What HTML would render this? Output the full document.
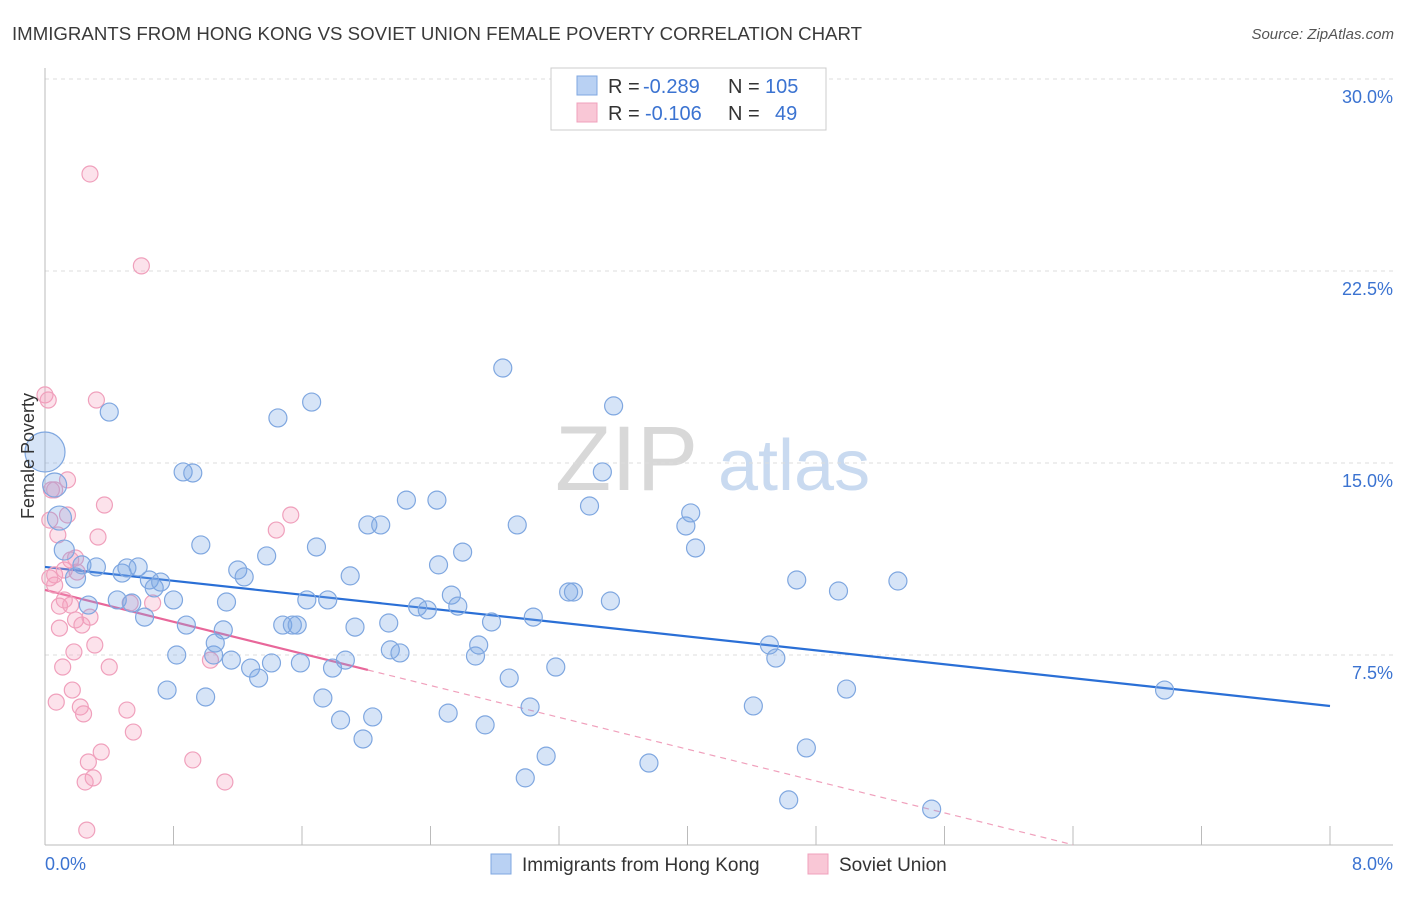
<!DOCTYPE html>
<html><head><meta charset="utf-8"><style>
body{margin:0;background:#fff;font-family:"Liberation Sans",sans-serif;}
svg text{font-family:"Liberation Sans",sans-serif;}
</style></head><body>
<svg id="chart" width="1406" height="892" viewBox="0 0 1406 892" xmlns="http://www.w3.org/2000/svg">
<text x="12" y="40" font-size="18.5" fill="#3a3a3a" textLength="850" lengthAdjust="spacingAndGlyphs">IMMIGRANTS FROM HONG KONG VS SOVIET UNION FEMALE POVERTY CORRELATION CHART</text>
<text x="1394" y="39" font-size="15" fill="#555" font-style="italic" text-anchor="end">Source: ZipAtlas.com</text>
<g>
<text x="555" y="490" font-size="92" fill="#d8d8d8" font-family="Liberation Serif" >ZIP</text>
<text x="718" y="490" font-size="72" fill="#c9daf0">atlas</text>
</g>
<g id="grid"></g>
<g id="axes"></g>
<g id="lines"></g>
<g id="points"></g>
<g>
<rect x="551" y="68" width="275" height="62" fill="#fff" stroke="#ccc"/>
<rect x="577" y="76" width="20" height="19" fill="#b9d1f3" stroke="#7fa7e0"/>
<rect x="577" y="103" width="20" height="19" fill="#f9c7d6" stroke="#f0a0bc"/>
<text x="608" y="93" font-size="20" fill="#333">R =</text>
<text x="643" y="93" font-size="20" fill="#3b73d1">-0.289</text>
<text x="728" y="93" font-size="20" fill="#333">N =</text>
<text x="765" y="93" font-size="20" fill="#3b73d1">105</text>
<text x="608" y="120" font-size="20" fill="#333">R =</text>
<text x="645" y="120" font-size="20" fill="#3b73d1">-0.106</text>
<text x="728" y="120" font-size="20" fill="#333">N =</text>
<text x="775" y="120" font-size="20" fill="#3b73d1">49</text>
</g>
<g>
<rect x="491" y="854" width="20" height="20" fill="#b9d1f3" stroke="#7fa7e0"/>
<text x="522" y="871" font-size="19" fill="#333">Immigrants from Hong Kong</text>
<rect x="808" y="854" width="20" height="20" fill="#f9c7d6" stroke="#f0a0bc"/>
<text x="839" y="871" font-size="19" fill="#333">Soviet Union</text>
</g>
<text transform="translate(34,456) rotate(-90)" font-size="18" fill="#333" text-anchor="middle">Female Poverty</text>
</svg>
<script>
const yTicks=[7.5,15,22.5,30];
const yTickLabels=["7.5%","15.0%","22.5%","30.0%"];
const xTicks=[0,0.8,1.6,2.4,3.2,4,4.8,5.6,6.4,7.2,8];
const blueX=[0,.06,.09,.12,.19,.23,.27,.32,.40,.45,.48,.51,.54,.58,.62,.65,.68,.72,.76,.80,.82,.86,.92,.88,.97,1.00,1.05,1.06,1.11,1.13,1.16,1.20,1.24,1.28,1.33,1.38,1.41,1.45,1.48,1.54,1.57,1.59,1.63,1.66,1.69,1.73,1.76,1.79,1.84,1.87,1.90,1.93,1.98,2.01,2.04,2.09,2.14,2.15,2.21,2.25,2.32,2.38,2.44,2.45,2.51,2.53,2.57,2.60,2.68,2.70,2.74,2.78,2.85,2.89,2.94,2.99,3.02,3.04,3.12,3.18,3.26,3.29,3.39,3.47,3.52,3.54,3.76,3.99,4.02,4.05,4.41,4.51,4.55,4.63,4.68,4.74,4.94,4.99,5.31,5.52,6.97];
const blueY=[15.43,14.14,12.85,11.60,10.51,11.02,9.45,10.94,16.99,9.65,10.70,10.90,9.53,10.94,8.98,10.43,10.12,10.35,6.13,9.65,7.50,14.65,14.61,8.67,11.80,5.86,7.50,7.97,8.48,9.57,7.30,10.82,10.55,6.99,6.60,11.37,7.19,16.76,8.67,8.67,8.67,7.19,9.65,17.38,11.72,5.82,9.65,6.99,4.96,7.30,10.59,8.59,4.22,12.58,5.08,12.58,8.75,7.70,7.58,13.55,9.38,9.26,13.55,11.02,5.23,9.84,9.41,11.52,7.46,7.89,4.77,8.79,18.71,6.60,12.58,2.70,5.47,8.98,3.55,7.03,9.96,9.96,13.32,14.65,9.61,17.23,3.28,12.54,13.05,11.68,5.51,7.89,7.38,1.84,10.43,3.87,10.00,6.17,10.39,1.48,6.13];
const blueR=[20,12,12,10,10,9,9,9,9,9,9,9,9,9,9,9,9,9,9,9,9,9,9,9,9,9,9,9,9,9,9,9,9,9,9,9,9,9,9,9,9,9,9,9,9,9,9,9,9,9,9,9,9,9,9,9,9,9,9,9,9,9,9,9,9,9,9,9,9,9,9,9,9,9,9,9,9,9,9,9,9,9,9,9,9,9,9,9,9,9,9,9,9,9,9,9,9,9,9,9,9];
const pinkX=[0,.02,.03,.04,.06,.06,.06,.07,.09,.09,.11,.12,.14,.14,.16,.17,.18,.19,.19,.20,.22,.23,.24,.25,.26,.27,.28,.28,.30,.31,.32,.33,.35,.37,.40,.51,.53,.55,.60,.67,.92,1.03,1.12,1.44,1.53,.03,.12,.08,.16];
const pinkY=[17.66,17.46,12.77,13.95,13.95,10.63,10.23,5.66,9.41,8.55,7.03,10.82,14.34,12.97,9.45,6.13,7.62,11.29,8.87,10.74,5.47,8.67,5.20,2.54,0.66,3.32,26.29,8.98,2.70,7.89,17.46,12.11,3.71,13.36,7.03,5.35,9.53,4.49,22.70,9.53,3.40,7.30,2.54,12.38,12.97,10.51,9.65,12.19,11.21];
const blueTrend=[10.94,-0.679];
const pinkTrend=[10.04,-1.555];
const pinkSolidEnd=2.01, pinkDashEnd=6.4;

const NS="http://www.w3.org/2000/svg";
const X0=45,X1=1330,Y0=847,PX=(1330-45)/8,PY=25.6;
const sx=v=>X0+v*PX, sy=v=>Y0-v*PY;
function mk(tag,attrs,parent){const e=document.createElementNS(NS,tag);for(const k in attrs)e.setAttribute(k,attrs[k]);parent.appendChild(e);return e;}
const grid=document.getElementById('grid'),axes=document.getElementById('axes'),lines=document.getElementById('lines'),pts=document.getElementById('points');
yTicks.forEach((t,i)=>{
 const l=mk('line',{x1:X0,x2:1393,y1:sy(t),y2:sy(t),stroke:'#ddd','stroke-dasharray':'4,4'},grid);
 
 
 const tx=mk('text',{x:1393,y:sy(t)+24,'font-size':18,fill:'#3b73d1','text-anchor':'end'},axes);
 tx.textContent=yTickLabels[i];
 
 
});
const la=mk('line',{x1:X0,x2:X0,y1:68,y2:845,stroke:'#bbb'},axes);


const ba=mk('line',{x1:X0,x2:1393,y1:845,y2:845,stroke:'#bbb'},axes);


xTicks.forEach(t=>{
 const k=mk('line',{x1:sx(t),x2:sx(t),y1:826,y2:845,stroke:'#bbb'},axes);
 
 
});
[[0,'0.0%','start',45],[8,'8.0%','end',1393]].forEach(a=>{
 const tx=mk('text',{x:a[3],y:870,'font-size':18,fill:'#3b73d1','text-anchor':a[2]},axes);
 tx.textContent=a[1];
 
 
});
pinkX.forEach((x,i)=>{
 const c=mk('circle',{cx:sx(x),cy:sy(pinkY[i]),r:8,fill:'rgba(244,160,190,0.3)',stroke:'#f0a0bc','stroke-width':1.2},pts);
 
 
});
blueX.forEach((x,i)=>{
 const c=mk('circle',{cx:sx(x),cy:sy(blueY[i]),r:blueR[i],fill:'rgba(120,165,230,0.3)',stroke:'#7fa7e0','stroke-width':1.2},pts);
 
 
});
const bl=mk('line',{x1:sx(0),y1:sy(blueTrend[0]),x2:sx(8),y2:sy(blueTrend[0]+8*blueTrend[1]),stroke:'#2a6fd6','stroke-width':2.2},lines);


const pd=mk('line',{x1:sx(pinkSolidEnd),y1:sy(pinkTrend[0]+pinkSolidEnd*pinkTrend[1]),x2:sx(pinkDashEnd),y2:sy(pinkTrend[0]+pinkDashEnd*pinkTrend[1]),stroke:'#f0a0bc','stroke-width':1.2,'stroke-dasharray':'6,5'},lines);


const ps=mk('line',{x1:sx(0),y1:sy(pinkTrend[0]),x2:sx(pinkSolidEnd),y2:sy(pinkTrend[0]+pinkSolidEnd*pinkTrend[1]),stroke:'#e8679a','stroke-width':2.2},lines);


</script>
</body></html>
